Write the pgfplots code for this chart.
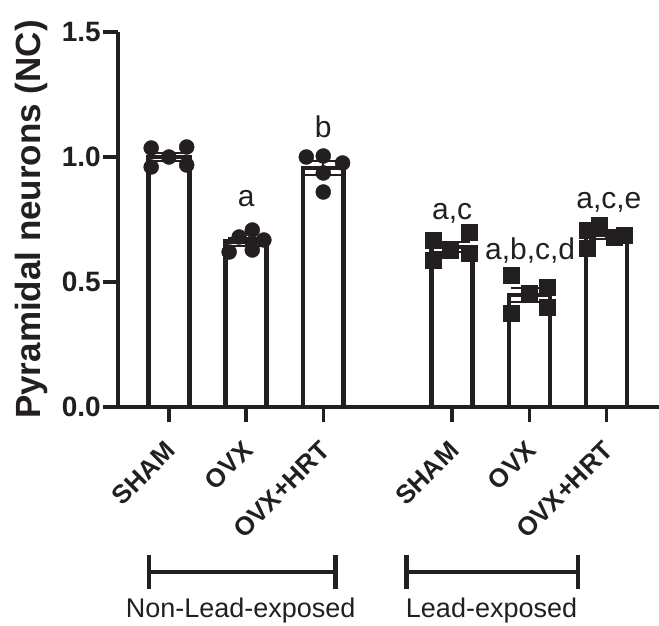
\documentclass[border=0pt]{standalone}
\usepackage{pgfplots}
\pgfplotsset{compat=1.18}
\usepackage{fontspec}
\setmainfont{Liberation Sans}
\definecolor{ink}{HTML}{231F20}
\newcommand\tfy{\fontsize{28}{28}\selectfont\bfseries}
\newcommand\tfx{\fontsize{26}{26}\selectfont\bfseries}
\begin{document}
\begin{tikzpicture}
\begin{axis}[
  scale only axis, width=541pt, height=375pt,
  xmin=-0.66, xmax=6.35, ymin=0, ymax=1.5,
  axis x line*=bottom, axis y line*=left,
  axis line style={line width=4pt, color=ink},
  every tick/.style={line width=3.5pt, color=ink},
  tick align=outside, major tick length=15pt,
  ytick={0,0.5,1,1.5},
  yticklabels={{\tfy 0.0},{\tfy 0.5},{\tfy 1.0},{\tfy 1.5}},
  yticklabel style={color=ink, inner xsep=2pt},
  xtick={0,1,2,3.67,4.67,5.67},
  xticklabels={{\tfx SHAM},{\tfx OVX},{\tfx OVX+HRT},{\tfx SHAM},{\tfx OVX},{\tfx OVX+HRT}},
  xticklabel style={yshift=-24pt, xshift=2pt, rotate=45, anchor=east, inner sep=0pt, color=ink},
  ylabel={\fontsize{35}{35}\selectfont\bfseries Pyramidal neurons (NC)},
  ylabel style={at={(axis description cs:-0.144,0.5)}, anchor=base, color=ink},
  clip=false,
]
% bars (means)
\addplot[ybar, bar width=0.53, bar shift=0pt, draw=ink, fill=white, line width=4.5pt]
  coordinates {(0,1.0) (1,0.661) (2,0.955) (3.67,0.64) (4.67,0.448) (5.67,0.688)};
% SEM
\addplot[draw=ink, line width=2pt, mark=none, only marks,
  error bars/.cd, y dir=both, y explicit,
  error bar style={line width=2pt, color=ink},
  error mark options={rotate=90, mark size=18pt, line width=2pt, color=ink}]
  coordinates {(0,1.0) +- (0,0.017) (1,0.661) +- (0,0.016) (2,0.955) +- (0,0.027)
               (3.67,0.64) +- (0,0.020) (4.67,0.448) +- (0,0.027) (5.67,0.688) +- (0,0.015)};
% non-lead points
\addplot[only marks, mark=*, mark size=7.5pt, color=ink, fill=ink]
  coordinates {(-0.23,1.036) (-0.23,0.96) (0,1.0) (0.23,1.04) (0.23,0.968)
               (0.78,0.62) (0.91,0.68) (1.08,0.708) (1.08,0.628) (1.23,0.668)
               (1.78,1.0) (2,1.004) (2.25,0.976) (2,0.936) (2,0.86)};
% lead points
\addplot[only marks, mark=square*, mark size=8pt, color=ink, fill=ink]
  coordinates {(3.42,0.668) (3.42,0.588) (3.64,0.628) (3.89,0.70) (3.89,0.616)
               (4.44,0.528) (4.44,0.376) (4.67,0.456) (4.90,0.48) (4.90,0.40)
               (5.42,0.708) (5.42,0.636) (5.58,0.728) (5.77,0.68) (5.90,0.688)};
% significance letters
\begin{scope}[every node/.style={font=\fontsize{30}{30}\selectfont, color=ink, anchor=base}]
\node at (axis cs:1,0.80) {a};
\node at (axis cs:2,1.076) {b};
\node at (axis cs:3.67,0.748) {a,c};
\node at (axis cs:4.68,0.588) {a,b,c,d};
\node at (axis cs:5.70,0.792) {a,c,e};
\end{scope}
% group brackets
\draw[ink, line width=4.5pt] (axis cs:-0.26,-0.66) -- (axis cs:2.16,-0.66);
\draw[ink, line width=4.5pt] ([yshift=-17pt]axis cs:-0.26,-0.66) -- ([yshift=17pt]axis cs:-0.26,-0.66);
\draw[ink, line width=4.5pt] ([yshift=-17pt]axis cs:2.16,-0.66) -- ([yshift=17pt]axis cs:2.16,-0.66);
\draw[ink, line width=4.5pt] (axis cs:3.08,-0.66) -- (axis cs:5.30,-0.66);
\draw[ink, line width=4.5pt] ([yshift=-17pt]axis cs:3.08,-0.66) -- ([yshift=17pt]axis cs:3.08,-0.66);
\draw[ink, line width=4.5pt] ([yshift=-17pt]axis cs:5.30,-0.66) -- ([yshift=17pt]axis cs:5.30,-0.66);
\node[font=\fontsize{27}{27}\selectfont, color=ink, anchor=base] at (axis cs:0.93,-0.84) {Non-Lead-exposed};
\node[font=\fontsize{27}{27}\selectfont, color=ink, anchor=base] at (axis cs:4.18,-0.84) {Lead-exposed};
\end{axis}
\pgfresetboundingbox
\path[use as bounding box] (-118pt,-219pt) rectangle (541pt,407pt);
\end{tikzpicture}
\end{document}
